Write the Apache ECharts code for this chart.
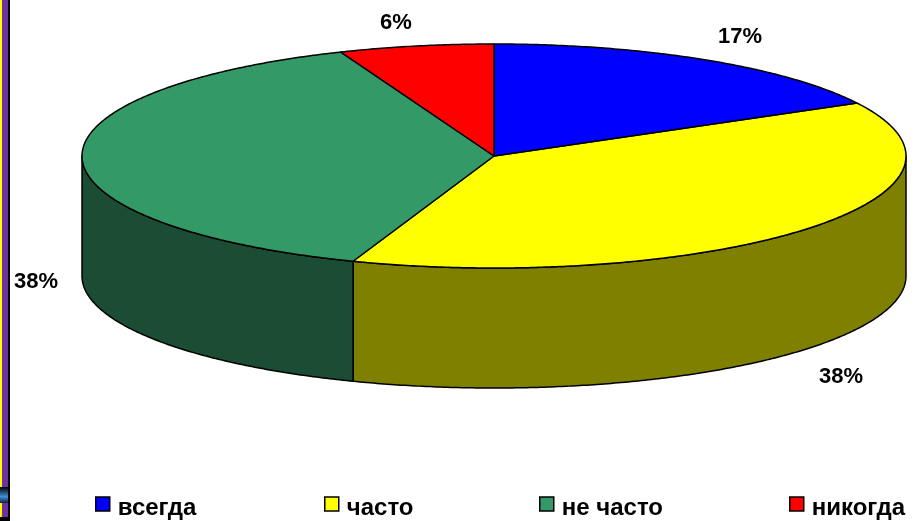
<!DOCTYPE html>
<html><head><meta charset="utf-8">
<style>html,body{margin:0;padding:0;background:#fff}#c{width:920px;height:521px}</style>
<script src="https://cdn.jsdelivr.net/npm/echarts@6/dist/echarts.min.js"></script>
</head><body><div id="c"></div>
<script>
const categories = ['всегда', 'часто', 'не часто', 'никогда'];
const shares = [17, 38, 38, 6];
const labels = ['17%', '38%', '38%', '6%'];
const topColors = ['#0000ff', '#ffff00', '#339966', '#ff0000'];
const wallColors = ['#000080', '#808000', '#1a4d33', '#800000'];
const labelAt = [[740, 37], [841, 377], [36, 282], [396, 23]];
const legendLeft = [95, 324, 539, 789];

const CX = 494, CY = 156, RX = 412, RY = 112, DEPTH = 120, STEP = 0.5;
const total = shares.reduce((a, b) => a + b, 0);
const pt = (deg, dy) => {
  const r = deg * Math.PI / 180;
  return [CX + RX * Math.sin(r), CY - RY * Math.cos(r) + (dy || 0)];
};
const arc = (a, b, dy) => {
  const out = [];
  for (let d = a; d < b; d += STEP) out.push(pt(d, dy));
  out.push(pt(b, dy));
  return out;
};
const lineStyle = { stroke: '#000', lineWidth: 1.5, lineJoin: 'round' };

function slicePainter(i) {
  const before = shares.slice(0, i).reduce((a, b) => a + b, 0);
  const start = before / total * 360, end = (before + shares[i]) / total * 360;
  return function () {
    const children = [];
    const wa = Math.max(start, 90), wb = Math.min(end, 270);
    if (wb > wa) {
      children.push({
        type: 'polygon',
        shape: { points: arc(wa, wb, 0).concat(arc(wa, wb, DEPTH).reverse()) },
        style: Object.assign({ fill: wallColors[i] }, lineStyle)
      });
    }
    children.push({
      type: 'polygon',
      shape: { points: [[CX, CY]].concat(arc(start, end, 0)) },
      style: Object.assign({ fill: topColors[i] }, lineStyle)
    });
    children.push({
      type: 'text',
      style: {
        text: labels[i], x: labelAt[i][0], y: labelAt[i][1],
        align: 'center', verticalAlign: 'middle',
        font: 'bold 22px "Liberation Sans", Arial, sans-serif', fill: '#000'
      }
    });
    return { type: 'group', children };
  };
}

const chart = echarts.init(document.getElementById('c'), null, { renderer: 'canvas' });
chart.setOption({
  animation: false,
  backgroundColor: '#fff',
  legend: categories.map((name, i) => ({
    data: [{
      name,
      icon: 'rect',
      itemStyle: { color: topColors[i], borderColor: '#000', borderWidth: 1.5 }
    }],
    left: legendLeft[i], top: 496, padding: 0, itemWidth: 14, itemHeight: 14,
    selectedMode: false,
    formatter: '{t|{name}}',
    textStyle: {
      rich: {
        t: {
          color: '#000', fontWeight: 'bold', fontSize: 24,
          fontFamily: '"Liberation Sans", Arial, sans-serif', padding: [8, 0, 0, 3]
        }
      }
    }
  })),
  graphic: [
    { type: 'rect', shape: { x: 0, y: 0, width: 2, height: 521 }, style: { fill: '#ffff00' } },
    { type: 'rect', shape: { x: 2, y: 0, width: 6, height: 521 }, style: { fill: '#7030a0' } },
    { type: 'rect', shape: { x: 8, y: 0, width: 2, height: 521 }, style: { fill: '#000' } },
    { type: 'rect', shape: { x: 0, y: 487, width: 8, height: 16 },
      style: { fill: new echarts.graphic.LinearGradient(0, 0, 0, 1, [
        { offset: 0, color: '#000' }, { offset: 0.6, color: '#3f8fd8' }, { offset: 1, color: '#102040' }
      ]) } },
    { type: 'rect', shape: { x: 0, y: 517, width: 10, height: 4 }, style: { fill: '#000' } }
  ],
  series: categories.map((name, i) => ({
    type: 'custom', name, coordinateSystem: 'none',
    data: [shares[i]],
    itemStyle: { color: topColors[i] },
    z: i === 0 || i === 3 ? 3 : 2,
    renderItem: slicePainter(i)
  }))
});
</script></body></html>
